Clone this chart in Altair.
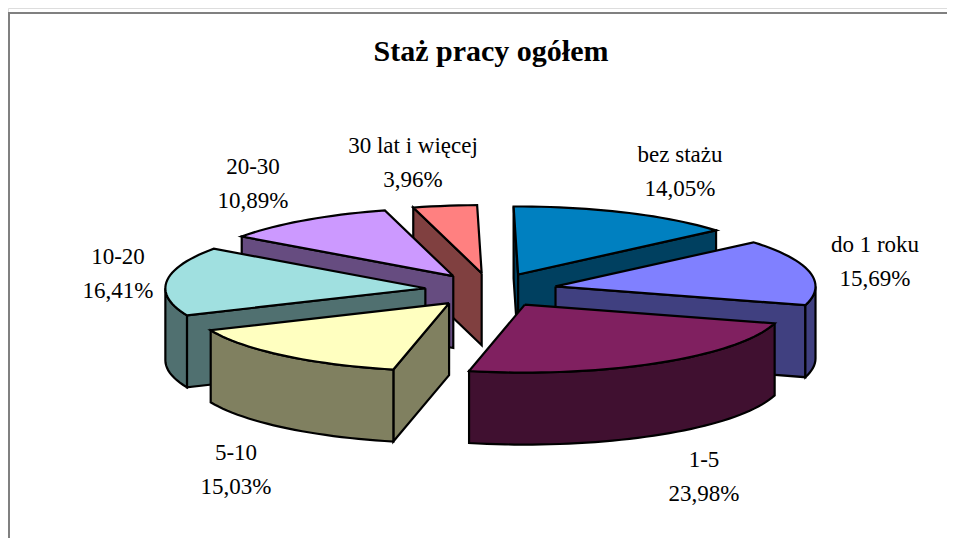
import math
import altair as alt
import pandas as pd

categories = ["bez stażu", "do 1 roku", "1-5", "5-10", "10-20", "20-30", "30 lat i więcej"]
shares = [14.05, 15.69, 23.98, 15.03, 16.41, 10.89, 3.96]
share_text = ["14,05%", "15,69%", "23,98%", "15,03%", "16,41%", "10,89%", "3,96%"]
top_colors = ["#0080C0", "#8080FF", "#802060", "#FFFFC0", "#A0E0E0", "#CC99FF", "#FF8080"]
side_colors = ["#004060", "#404080", "#401030", "#808060", "#507070", "#664C80", "#804040"]
label_x = [680, 875, 704, 236, 118, 253, 413]
label_y = [155, 245, 460, 453, 257, 167, 146]
draw_order = [6, 0, 5, 1, 4, 3, 2]
title_text = "Staż pracy ogółem"

W, H = 939, 530
CX, CY, RX, RY, DEPTH, EXPX, EXPY = 491, 290, 260, 68, 72, 66, 17
FIRST = -1.0
FONT = "Liberation Serif"

x_scale = alt.Scale(domain=[8, 8 + W], range=[0, W], nice=False, zero=False)
y_scale = alt.Scale(domain=[8, 8 + H], range=[0, H], nice=False, zero=False)
x_enc = alt.X("x:Q", scale=x_scale, axis=None)
y_enc = alt.Y("y:Q", scale=y_scale, axis=None)


def polar(angle, ax, ay):
    r = math.radians(angle)
    return ax + RX * math.sin(r), ay - RY * math.cos(r)


def arc(a0, a1, ax, ay):
    n = max(2, int(abs(a1 - a0) / 2) + 1)
    return [polar(a0 + (a1 - a0) * i / (n - 1), ax, ay) for i in range(n)]


def face(points, color):
    pts = points + [points[0]]
    df = pd.DataFrame({"x": [p[0] for p in pts], "y": [p[1] for p in pts], "o": range(len(pts))})
    return (
        alt.Chart(df)
        .mark_line(fill=color, stroke="black", strokeWidth=2.2, strokeJoin="miter", clip=False)
        .encode(x=x_enc, y=y_enc, order="o:Q")
    )


total = sum(shares)
starts = []
acc = FIRST
for s in shares:
    starts.append(acc)
    acc += s / total * 360

layers = []
for i in draw_order:
    a0 = starts[i]
    a1 = a0 + shares[i] / total * 360
    mid = math.radians((a0 + a1) / 2)
    ax = CX + EXPX * math.sin(mid)
    ay = CY - EXPY * math.cos(mid)
    side = side_colors[i]
    if math.sin(math.radians(a0)) < 0:
        rim = polar(a0, ax, ay)
        layers.append(face([(ax, ay), rim, (rim[0], rim[1] + DEPTH), (ax, ay + DEPTH)], side))
    if math.sin(math.radians(a1)) > 0:
        rim = polar(a1, ax, ay)
        layers.append(face([(ax, ay), rim, (rim[0], rim[1] + DEPTH), (ax, ay + DEPTH)], side))
    w0, w1 = max(a0, 90), min(a1, 270)
    if w1 > w0:
        edge = arc(w0, w1, ax, ay)
        layers.append(face(edge + [(p[0], p[1] + DEPTH) for p in reversed(edge)], side))
    layers.append(face([(ax, ay)] + arc(a0, a1, ax, ay), top_colors[i]))

frame = (
    alt.Chart(pd.DataFrame({"a": [0]}))
    .mark_rule(color="#808080", strokeWidth=2)
)
frame_left = frame.encode(x=alt.value(1), y=alt.value(4), y2=alt.value(H))
frame_top = frame.encode(x=alt.value(0), x2=alt.value(W), y=alt.value(5))

labels = pd.DataFrame(
    {
        "x": label_x,
        "y": label_y,
        "t": [f"{c}\n{s}" for c, s in zip(categories, share_text)],
    }
)
label_layer = (
    alt.Chart(labels)
    .mark_text(font=FONT, fontSize=23, color="black", lineBreak="\n", lineHeight=34, align="center", baseline="middle")
    .encode(x=x_enc, y=y_enc, text="t:N")
)
title_layer = (
    alt.Chart(pd.DataFrame({"x": [491], "y": [52], "t": [title_text]}))
    .mark_text(font=FONT, fontSize=30, fontWeight="bold", color="black", align="center", baseline="middle")
    .encode(x=x_enc, y=y_enc, text="t:N")
)

chart = (
    alt.layer(frame_left, frame_top, *layers, label_layer, title_layer)
    .properties(width=W, height=H, padding=0, autosize=alt.AutoSizeParams(type="none"))
    .configure_view(stroke=None)
    .configure(background="white")
)
chart.save("out.html", embed_options={"renderer": "svg", "actions": False})
